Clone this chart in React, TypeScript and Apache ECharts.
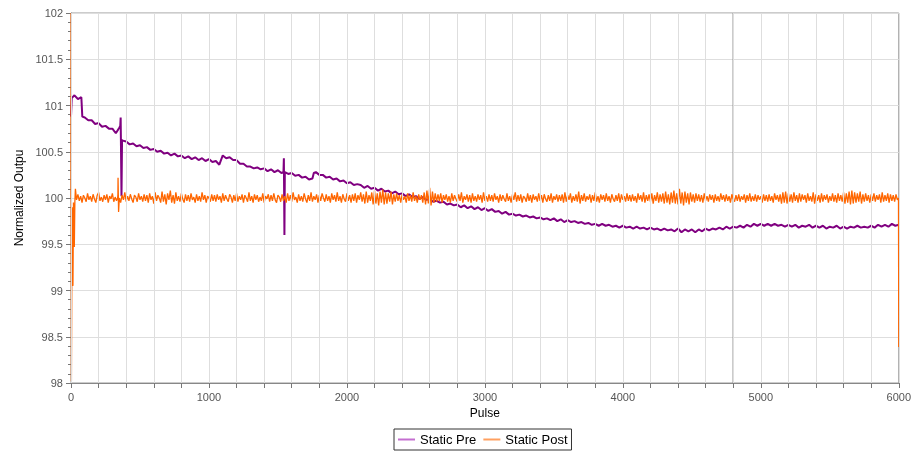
import React, { useEffect, useRef } from "react";
import * as echarts from "echarts";

// ---------- data ----------
// Static Pre (purple), sampled every 25 pulses
const PRE_STEP = 25;
const preHead: [number, number][] = [
  [0, 100.88], [5, 101.08], [25, 101.11], [50, 101.07], [75, 101.09], [82, 100.88],
];
const preBodyStart = 100;
const preBody: number[] = [
  100.87, 100.84, 100.84, 100.80, 100.81, 100.77, 100.78, 100.75, 100.75, 100.70, 100.76, 100.62, 100.61, 100.58, 100.59, 100.56, 100.57, 100.54, 100.55, 100.52,
  100.53, 100.50, 100.51, 100.48, 100.49, 100.46, 100.48, 100.45, 100.46, 100.43, 100.45, 100.42, 100.44, 100.41, 100.43, 100.40, 100.42, 100.39, 100.40, 100.36,
  100.46, 100.43, 100.44, 100.41, 100.41, 100.37, 100.37, 100.34, 100.34, 100.32, 100.33, 100.31, 100.32, 100.29, 100.31, 100.28, 100.30, 100.27, 100.28, 100.26,
  100.27, 100.24, 100.25, 100.22, 100.23, 100.20, 100.21, 100.28, 100.25, 100.25, 100.22, 100.23, 100.20, 100.21, 100.18, 100.19, 100.16, 100.17, 100.14, 100.15,
  100.14, 100.11, 100.13, 100.10, 100.11, 100.08, 100.10, 100.07, 100.08, 100.05, 100.07, 100.04, 100.05, 100.02, 100.04, 100.01, 100.02, 99.99, 100.01, 99.98,
  99.99, 99.96, 99.97, 99.95, 99.96, 99.93, 99.94, 99.92, 99.93, 99.90, 99.92, 99.89, 99.91, 99.88, 99.90, 99.87, 99.89, 99.86, 99.88, 99.85,
  99.86, 99.83, 99.85, 99.82, 99.83, 99.81, 99.82, 99.80, 99.81, 99.79, 99.80, 99.78, 99.79, 99.77, 99.78, 99.76, 99.78, 99.75, 99.77, 99.74,
  99.76, 99.74, 99.75, 99.73, 99.74, 99.72, 99.73, 99.71, 99.72, 99.70, 99.72, 99.70, 99.71, 99.69, 99.70, 99.68, 99.70, 99.68, 99.69, 99.67,
  99.69, 99.67, 99.68, 99.66, 99.68, 99.66, 99.67, 99.65, 99.67, 99.65, 99.66, 99.64, 99.67, 99.63, 99.66, 99.64, 99.66, 99.63, 99.66, 99.64,
  99.67, 99.65, 99.67, 99.66, 99.68, 99.66, 99.69, 99.67, 99.69, 99.68, 99.70, 99.68, 99.71, 99.69, 99.72, 99.70, 99.72, 99.70, 99.72, 99.70,
  99.72, 99.70, 99.71, 99.69, 99.71, 99.69, 99.71, 99.68, 99.70, 99.69, 99.71, 99.68, 99.70, 99.68, 99.70, 99.67, 99.69, 99.68, 99.70, 99.67,
  99.69, 99.67, 99.69, 99.68, 99.70, 99.68, 99.69, 99.68, 99.70, 99.68, 99.71, 99.69, 99.71, 99.69, 99.72, 99.70,
];
const preExtra: [number, number][] = [
  [357, 100.78], [360, 100.87], [366, 100.02], [370, 100.63],
  [1540, 100.28], [1543, 100.43], [1547, 99.6],
  [1760, 100.27],
  [6000, 99.71],
];

// Static Post (orange), sampled every 10 pulses
const POST_STEP = 10;
const postHead: [number, number][] = [
  [0, 100.0], [1, 102.0], [3, 98.02], [8, 99.9], [14, 99.05], [18, 99.95], [24, 99.47], [28, 99.96], [32, 100.1], [40, 99.98],
];
const postBodyStart = 50;
const postBody: number[] = [
  100.04, 99.97, 100.02, 99.95, 100.03, 100.00, 99.96, 100.05, 99.98, 100.02, 99.96, 100.04, 99.99, 99.95, 100.03, 100.06, 99.97, 100.01, 99.96, 100.03, 99.98, 100.04, 99.95, 100.02, 99.99, 100.05, 99.96, 100.01, 99.97, 100.04, 100.00, 99.95, 100.03, 99.98, 100.06, 99.96, 100.02, 99.97, 100.04, 99.99, 99.95, 100.03, 100.01, 99.96, 100.05, 99.98, 100.02, 99.96, 100.04, 99.97,
  100.03, 99.95, 100.05, 99.98, 100.02, 99.94, 100.06, 99.97, 100.03, 100.00, 99.95, 100.07, 99.96, 100.04, 99.93, 100.05, 99.98, 100.08, 99.95, 100.03, 99.94, 100.06, 99.97, 100.02, 99.96, 100.05, 99.99, 99.95, 100.04, 99.97, 100.03, 99.96, 100.05, 99.98, 100.01, 99.95, 100.04, 99.97, 100.02, 99.96, 100.06, 99.98, 100.03, 99.95, 100.02, 100.00, 99.96, 100.04, 99.97, 100.03,
  99.96, 100.04, 99.98, 100.02, 99.95, 100.05, 99.97, 100.03, 99.99, 99.96, 100.04, 100.01, 99.95, 100.03, 99.97, 100.05, 99.96, 100.02, 99.98, 100.04, 99.95, 100.03, 100.00, 99.96, 100.06, 99.97, 100.02, 99.95, 100.04, 99.98, 100.03, 99.96, 100.01, 99.97, 100.05, 99.95, 100.02, 99.99, 100.04, 99.96, 100.03, 99.97, 100.05, 99.98, 99.95, 100.03, 100.01, 99.96, 100.04, 99.97,
  100.02, 99.95, 100.05, 99.97, 100.03, 99.96, 100.06, 99.98, 100.01, 99.95, 100.04, 99.97, 100.02, 99.96, 100.05, 99.99, 99.95, 100.03, 99.97, 100.06, 99.96, 100.02, 99.98, 100.04, 99.95, 100.03, 99.97, 100.05, 100.00, 99.96, 100.04, 99.97, 100.02, 99.95, 100.05, 99.98, 100.03, 99.96, 100.06, 99.97, 100.02, 99.95, 100.04, 99.99, 99.96, 100.05, 99.97, 100.03, 99.95, 100.04,
  99.97, 100.05, 99.95, 100.03, 99.98, 100.06, 99.96, 100.04, 99.94, 100.07, 99.95, 100.03, 99.97, 100.06, 99.93, 100.08, 99.94, 100.05, 99.92, 100.07, 99.95, 100.09, 99.93, 100.06, 99.94, 100.05, 99.96, 100.07, 99.93, 100.04, 99.96, 100.05, 99.97, 100.03, 99.95, 100.04, 99.98, 100.02, 99.95, 100.05, 99.97, 100.03, 99.96, 100.06, 99.97, 100.02, 99.95, 100.04, 99.98, 100.03,
  99.95, 100.06, 99.93, 100.08, 99.94, 100.11, 99.92, 100.07, 99.95, 100.05, 99.96, 100.04, 99.97, 100.05, 99.95, 100.03, 99.98, 100.04, 99.96, 100.02, 99.95, 100.05, 99.97, 100.03, 99.99, 99.96, 100.04, 99.97, 100.06, 99.95, 100.02, 99.98, 100.04, 99.96, 100.03, 99.95, 100.05, 99.97, 100.02, 99.96, 100.04, 99.98, 100.03, 99.95, 100.06, 99.97, 100.02, 99.96, 100.04, 99.97,
  100.03, 99.96, 100.05, 99.98, 100.02, 99.95, 100.04, 99.97, 100.03, 99.99, 99.96, 100.05, 99.97, 100.02, 99.95, 100.04, 99.98, 100.06, 99.96, 100.03, 99.97, 100.04, 99.95, 100.02, 100.00, 99.96, 100.05, 99.97, 100.03, 99.95, 100.04, 99.98, 100.02, 99.96, 100.05, 99.97, 100.03, 99.95, 100.04, 99.99, 99.96, 100.03, 99.97, 100.05, 99.95, 100.02, 99.98, 100.04, 99.96, 100.03,
  99.97, 100.04, 99.95, 100.06, 99.96, 100.03, 99.98, 100.05, 99.95, 100.02, 99.97, 100.04, 99.96, 100.07, 99.94, 100.03, 99.97, 100.05, 99.96, 100.02, 99.98, 100.04, 99.95, 100.03, 99.97, 100.06, 99.96, 100.02, 99.95, 100.04, 99.98, 100.03, 99.96, 100.05, 99.97, 100.02, 99.95, 100.04, 99.99, 99.96, 100.03, 99.97, 100.05, 99.95, 100.04, 99.98, 100.02, 99.96, 100.05, 99.97,
  100.03, 99.96, 100.04, 99.97, 100.02, 99.95, 100.05, 99.98, 100.03, 99.96, 100.06, 99.95, 100.03, 99.97, 100.04, 99.96, 100.05, 99.94, 100.03, 99.97, 100.06, 99.95, 100.04, 99.96, 100.05, 99.94, 100.07, 99.95, 100.04, 99.93, 100.06, 99.95, 100.08, 99.94, 100.05, 99.93, 100.10, 99.94, 100.06, 99.92, 100.07, 99.95, 100.05, 99.93, 100.06, 99.96, 100.04, 99.95, 100.05, 99.97,
  100.04, 99.96, 100.03, 99.95, 100.05, 99.97, 100.02, 99.96, 100.04, 99.98, 100.03, 99.95, 100.04, 99.97, 100.02, 99.96, 100.05, 99.98, 100.03, 99.96, 100.04, 99.97, 100.02, 99.95, 100.04, 99.99, 99.96, 100.03, 99.97, 100.04, 99.96, 100.02, 99.98, 100.04, 99.95, 100.03, 99.97, 100.05, 99.96, 100.02, 99.97, 100.04, 99.96, 100.03, 99.98, 100.02, 99.95, 100.04, 99.97, 100.03,
  99.96, 100.04, 99.97, 100.02, 99.95, 100.05, 99.98, 100.03, 99.96, 100.04, 99.94, 100.06, 99.95, 100.07, 99.94, 100.05, 99.96, 100.04, 99.95, 100.06, 99.97, 100.03, 99.95, 100.05, 99.96, 100.04, 99.98, 100.03, 99.95, 100.05, 99.97, 100.02, 99.96, 100.06, 99.94, 100.04, 99.97, 100.03, 99.95, 100.05, 99.96, 100.03, 99.98, 100.04, 99.95, 100.02, 99.97, 100.05, 99.96, 100.03,
  99.95, 100.05, 99.97, 100.03, 99.96, 100.06, 99.94, 100.05, 99.95, 100.07, 99.93, 100.08, 99.94, 100.06, 99.95, 100.05, 99.96, 100.07, 99.94, 100.04, 99.96, 100.05, 99.97, 100.03, 99.95, 100.04, 99.97, 100.05, 99.96, 100.03, 99.98, 100.04, 99.95, 100.06, 99.96, 100.03, 99.97, 100.05, 99.95, 100.04, 99.97, 100.03, 99.96, 100.04, 99.98,
];
const postExtra: [number, number][] = [
  [338, 100.0], [341, 100.22], [345, 99.85],
  [5998, 100.0], [6000, 98.39],
];

const seriesNames = ["Static Pre", "Static Post"];
const xTickLabels = [0, 1000, 2000, 3000, 4000, 5000, 6000];
const yTickLabels = [98, 98.5, 99, 99.5, 100, 100.5, 101, 101.5, 102];
const cursorLine: [number, number][] = [[4800, 98], [4800, 102]];

function build(head: [number, number][], start: number, step: number, body: number[], extra: [number, number][]) {
  const bodyPts = body
    .map((v, i) => [start + i * step, v] as [number, number])
    .filter((p) => p[0] < 5995);
  const pts: [number, number][] = [...head, ...bodyPts, ...extra];
  return pts.sort((a, b) => a[0] - b[0]);
}

export default function App() {
  const ref = useRef<HTMLDivElement>(null);
  useEffect(() => {
    const chart = echarts.init(ref.current!, null, { renderer: "svg" });
    const font = "'Liberation Sans', Arial, sans-serif";
    chart.setOption({
      animation: false,
      textStyle: { fontFamily: font },
      grid: { left: 71, right: 11, top: 13, bottom: 68, show: true, borderColor: "#999", borderWidth: 1 },
      legend: {
        left: 394,
        top: 429,
        icon: "rect",
        data: [
          { name: seriesNames[0], itemStyle: { color: "#c46fd0", borderWidth: 0 } },
          { name: seriesNames[1], itemStyle: { color: "#ffa060", borderWidth: 0 } },
        ],
        borderColor: "#333",
        borderWidth: 1,
        borderRadius: 0,
        padding: [4, 4, 4, 4],
        itemWidth: 17,
        itemHeight: 2,
        itemGap: 7,
        textStyle: { fontFamily: font, fontSize: 13, color: "#000" },
      },
      xAxis: {
        type: "value",
        z: 10,
        min: 0,
        max: 6000,
        interval: 200,
        name: "Pulse",
        nameLocation: "middle",
        nameGap: 23,
        nameTextStyle: { fontFamily: font, fontSize: 12, color: "#000" },
        axisLine: { show: true, lineStyle: { color: "#888", width: 1 } },
        axisTick: { show: true, length: 5, lineStyle: { color: "#777" } },
        axisLabel: {
          margin: 8,
          fontSize: 11,
          color: "#555",
          formatter: (v: number) => (xTickLabels.includes(v) ? String(v) : ""),
        },
        splitLine: { show: true, lineStyle: { color: "#dedede", width: 1 } },
      },
      yAxis: {
        type: "value",
        min: 98,
        max: 102,
        interval: 0.5,
        name: "Normalized Outpu",
        nameLocation: "middle",
        nameGap: 46,
        nameTextStyle: { fontFamily: font, fontSize: 12, color: "#000" },
        axisLine: { show: true, lineStyle: { color: "#888", width: 1 } },
        axisTick: { show: true, length: 5, lineStyle: { color: "#777" } },
        minorTick: { show: true, splitNumber: 5, length: 3, lineStyle: { color: "#777" } },
        axisLabel: {
          margin: 8,
          fontSize: 11,
          color: "#555",
          formatter: (v: number) => (yTickLabels.includes(v) ? String(v) : ""),
        },
        splitLine: { show: true, lineStyle: { color: "#dedede", width: 1 } },
      },
      series: [
        {
          name: "cursor",
          type: "line",
          symbol: "none",
          silent: true,
          z: 1,
          lineStyle: { color: "#7a7a7a", width: 1.2 },
          data: cursorLine,
        },
        {
          name: seriesNames[0],
          type: "line",
          symbol: "none",
          lineStyle: { color: "#800080", width: 2 },
          itemStyle: { color: "#800080" },
          data: build(preHead, preBodyStart, PRE_STEP, preBody, preExtra),
        },
        {
          name: seriesNames[1],
          type: "line",
          symbol: "none",
          lineStyle: { color: "#ff6600", width: 1.3 },
          itemStyle: { color: "#ff6600" },
          data: build(postHead, postBodyStart, POST_STEP, postBody, postExtra),
        },
      ],
    });
    return () => chart.dispose();
  }, []);
  return <div ref={ref} style={{ position: "fixed", left: 0, top: 0, width: 914, height: 451 }} />;
}
